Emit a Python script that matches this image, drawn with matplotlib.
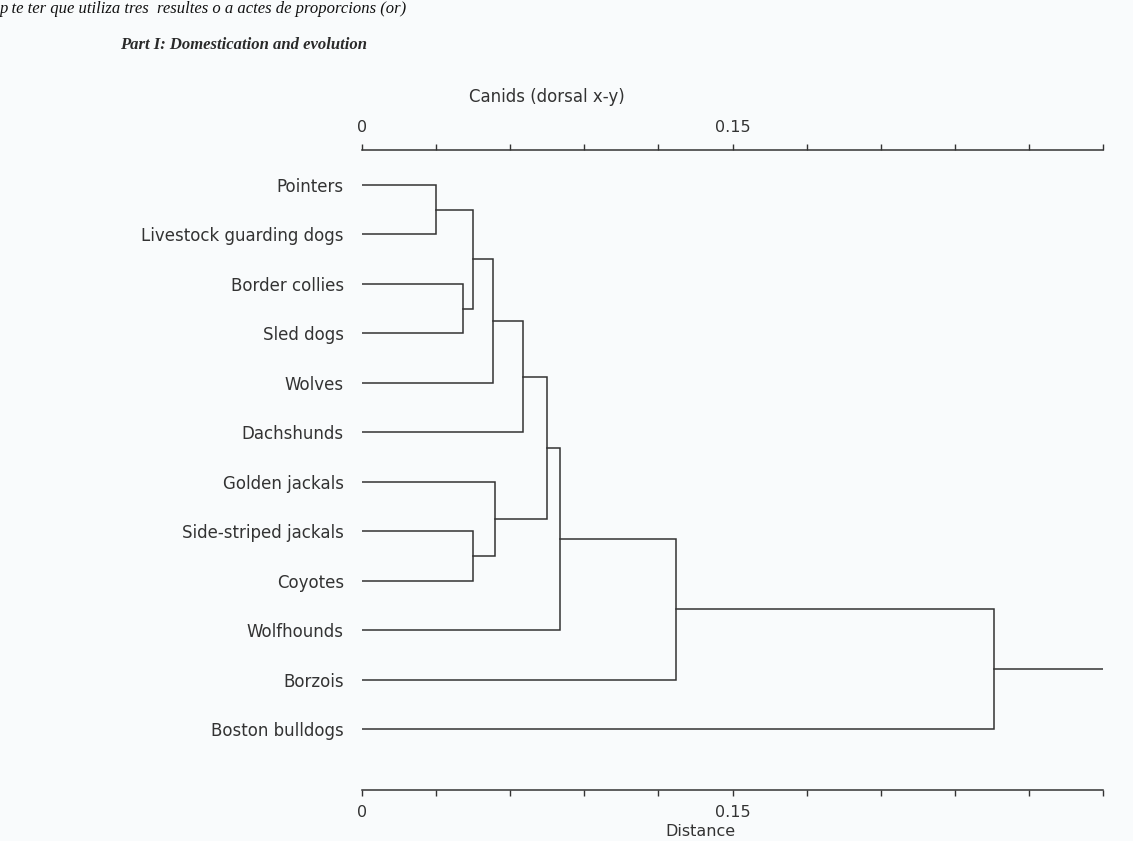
import numpy as np
import matplotlib.pyplot as plt

# Data ---------------------------------------------------------------
leaves = ['Pointers', 'Livestock guarding dogs', 'Border collies', 'Sled dogs',
          'Wolves', 'Dachshunds', 'Golden jackals', 'Side-striped jackals',
          'Coyotes', 'Wolfhounds', 'Borzois', 'Boston bulldogs']
# merges: (child a, child b, distance); ids >= 12 refer to earlier merges
merge_a = [0, 2, 12, 14, 15, 7, 6, 16, 19, 20, 21]
merge_b = [1, 3, 13, 4, 5, 8, 17, 18, 9, 10, 11]
merge_h = [0.030, 0.041, 0.045, 0.053, 0.065, 0.045, 0.054, 0.075, 0.080, 0.127, 0.256]
root_tail = 0.302
tick_vals = np.arange(0, 0.301, 0.03)
tick_text = ['0', '', '', '', '', '0.15', '', '', '', '', '']
# --------------------------------------------------------------------

bg = '#f9fbfc'
ink = '#333333'
sans = ['DejaVu Sans']
serif = ['Liberation Serif', 'DejaVu Serif']
fs = 12

fig = plt.figure(figsize=(11.33, 8.41), dpi=100, facecolor=bg)
ax = fig.add_axes([362/1133, 1 - 790/841, 741/1133, 640/841])
ax.set_facecolor(bg)

n = len(leaves)
ypos = {i: float(i) for i in range(n)}
hpos = {i: 0.0 for i in range(n)}
for k, (a, b, h) in enumerate(zip(merge_a, merge_b, merge_h)):
    ax.plot([hpos[a], h, h, hpos[b]], [ypos[a], ypos[a], ypos[b], ypos[b]],
            color=ink, lw=1.1, solid_joinstyle='miter')
    ypos[n + k] = (ypos[a] + ypos[b]) / 2
    hpos[n + k] = h
root = n + len(merge_h) - 1
ax.plot([hpos[root], root_tail], [ypos[root], ypos[root]], color=ink, lw=1.1)

ax.set_xlim(0, 0.30)
ax.set_ylim(12.23, -0.708)
ax.set_yticks(range(n), leaves, fontsize=fs, family=sans, color=ink)
ax.set_xticks(tick_vals, tick_text, fontsize=fs - 0.5, family=sans, color=ink)
ax.tick_params(axis='y', length=0, pad=13)
ax.tick_params(axis='x', top=True, labeltop=True, direction='out', length=4,
               width=1, color=ink, pad=7)
for s in ['left', 'right']:
    ax.spines[s].set_visible(False)
for s in ['top', 'bottom']:
    ax.spines[s].set_color(ink)
    ax.spines[s].set_linewidth(1.1)

ax.text(0.075, 1.0 + 53/640, 'Canids (dorsal x-y)', transform=ax.get_xaxis_transform(),
        ha='center', va='center', fontsize=fs, family=sans, color=ink)
ax.text(0.137, -42/640, 'Distance', transform=ax.get_xaxis_transform(),
        ha='center', va='center', fontsize=fs - 0.5, family=sans, color=ink)

fig.text(120/1133, 1 - 45/841, 'Part I: Domestication and evolution', ha='left', va='center',
         fontsize=12, family=serif, style='italic', weight='bold', color='#2a2a2a')
fig.text(0, 1 - 1/841, 'p te ter que utiliza tres  resultes o a actes de proporcions (or)',
         ha='left', va='top', fontsize=12, family=serif, style='italic', color='#111111')

fig.savefig('out.png', dpi=100, facecolor=bg)
